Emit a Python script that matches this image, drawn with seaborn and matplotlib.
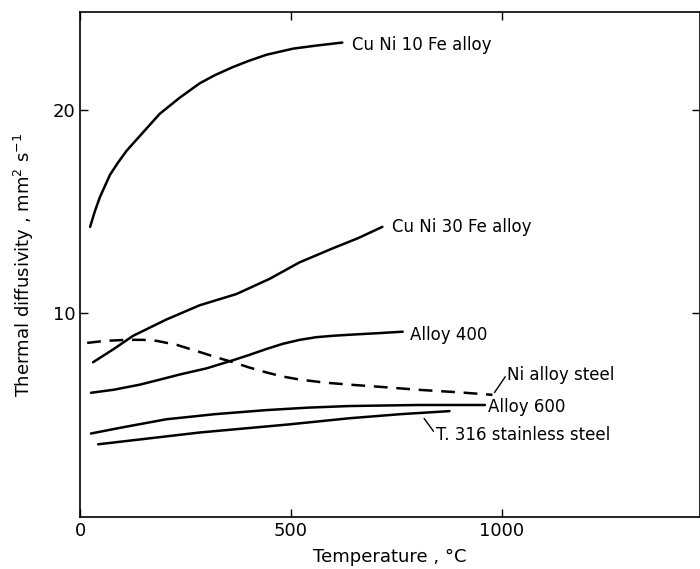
import matplotlib
matplotlib.use("Agg")
import matplotlib.pyplot as plt
import seaborn as sns

sns.set_theme(style="white")
plt.rcParams['font.family'] = ['DejaVu Sans']
plt.rcParams['text.color'] = 'black'
plt.rcParams['axes.labelcolor'] = 'black'

# Data (temperature in °C, diffusivity in mm^2/s)
cuni10_T = [24, 35, 47, 71, 90, 111, 150, 189, 237, 284, 320, 363, 400, 442, 505, 560, 622]
cuni10_D = [14.25, 15.0, 15.7, 16.8, 17.4, 18.0, 18.9, 19.8, 20.6, 21.3, 21.7, 22.1, 22.4, 22.7, 23.0, 23.15, 23.3]

cuni30_T = [31, 80, 126, 205, 284, 371, 450, 520, 600, 660, 717]
cuni30_D = [7.6, 8.25, 8.9, 9.7, 10.4, 10.95, 11.7, 12.5, 13.2, 13.7, 14.25]

a400_T = [26, 80, 142, 190, 237, 300, 363, 400, 442, 480, 521, 560, 600, 639, 700, 765]
a400_D = [6.1, 6.25, 6.5, 6.75, 7.0, 7.3, 7.7, 7.95, 8.25, 8.5, 8.7, 8.83, 8.9, 8.95, 9.02, 9.1]

nisteel_T = [17, 60, 111, 150, 182, 230, 284, 330, 363, 400, 442, 480, 521, 580, 639, 720, 800, 900, 978]
nisteel_D = [8.55, 8.65, 8.7, 8.7, 8.65, 8.45, 8.1, 7.8, 7.6, 7.35, 7.1, 6.9, 6.75, 6.6, 6.5, 6.38, 6.25, 6.12, 6.0]

a600_T = [26, 100, 205, 320, 442, 540, 639, 800, 960]
a600_D = [4.1, 4.4, 4.8, 5.05, 5.25, 5.37, 5.45, 5.5, 5.5]

t316_T = [43, 284, 497, 639, 760, 876]
t316_D = [3.57, 4.15, 4.55, 4.85, 5.05, 5.2]

labels = ["Cu Ni 10 Fe alloy", "Cu Ni 30 Fe alloy", "Alloy 400",
          "Ni alloy steel", "Alloy 600", "T. 316 stainless steel"]

fig = plt.figure(figsize=(7.0, 5.69), dpi=100)
ax = fig.add_axes([80/700, (569-517)/569, 620/700, (517-12)/569])

series = [(cuni10_T, cuni10_D, "-"), (cuni30_T, cuni30_D, "-"),
          (a400_T, a400_D, "-"), (nisteel_T, nisteel_D, (0, (5.5, 3.5))),
          (a600_T, a600_D, "-"), (t316_T, t316_D, "-")]
for T, D, ls in series:
    sns.lineplot(x=T, y=D, ax=ax, color="black", linewidth=1.8,
                 linestyle=ls, sort=False, estimator=None)

fs = 12
ax.text(645, 23.2, labels[0], fontsize=fs, va="center", ha="left")
ax.text(739, 14.25, labels[1], fontsize=fs, va="center", ha="left")
ax.text(782, 8.95, labels[2], fontsize=fs, va="center", ha="left")
ax.text(1012, 6.95, labels[3], fontsize=fs, va="center", ha="left")
ax.text(968, 5.4, labels[4], fontsize=fs, va="center", ha="left")
ax.text(843, 4.05, labels[5], fontsize=fs, va="center", ha="left")

# leader lines
ax.annotate("", xy=(979, 6.0), xytext=(1012, 7.0),
            arrowprops=dict(arrowstyle="-", color="black", lw=1))
ax.annotate("", xy=(812, 4.95), xytext=(842, 4.1),
            arrowprops=dict(arrowstyle="-", color="black", lw=1))

ax.set_xlim(0, 1470)
ax.set_ylim(0, 24.8)
ax.set_xticks([0, 500, 1000])
ax.set_yticks([10, 20])
ax.tick_params(axis="both", direction="in", length=6, width=1, colors="black",
               labelsize=13, top=True, right=True, bottom=True, left=True)
for s in ax.spines.values():
    s.set_color("black")
    s.set_linewidth(1.2)

ax.set_xlabel("Temperature , °C", fontsize=13, labelpad=6)
ax.set_ylabel("Thermal diffusivity , mm$^{2}$ s$^{-1}$", fontsize=13, labelpad=12)

fig.savefig("out.png", dpi=100)
